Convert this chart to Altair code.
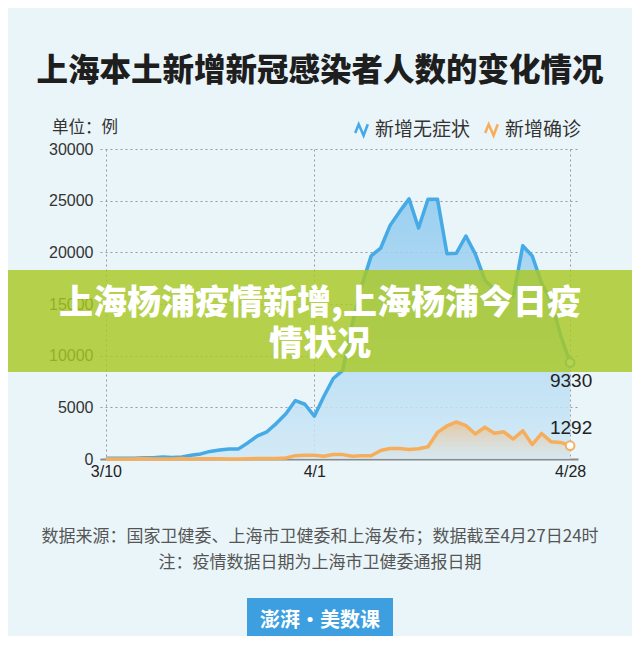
import altair as alt
import pandas as pd

# ---------------- data ----------------
dates = [d.strftime("%Y-%m-%dT00:00:00") for d in pd.date_range("2022-03-10", "2022-04-28", freq="D")]

asymptomatic = [76, 64, 78, 64, 128, 130, 197, 150, 203, 366,
                492, 734, 865, 977, 979, 1580, 2231, 2631, 3450, 4381,
                5656, 5298, 4144, 6051, 7788, 8581, 13086, 16766, 19660, 20398,
                22609, 23937, 25173, 22348, 25141, 25146, 19872, 19923, 21582, 19831,
                17332, 16407, 15861, 15698, 20634, 19657, 16983, 15319, 11956, 9330]

confirmed = [4, 11, 5, 1, 41, 9, 5, 8, 57, 8,
             17, 24, 31, 4, 4, 29, 38, 45, 50, 96,
             326, 355, 358, 260, 438, 425, 268, 311, 322, 824,
             1015, 1006, 914, 994, 1189, 2573, 3200, 3590, 3238, 2417,
             3084, 2494, 2634, 1931, 2736, 1401, 2472, 1661, 1606, 1292]

series_names = ["新增无症状", "新增确诊"]
series_colors = ["#45aae5", "#f7ae5c"]

y_ticks = [0, 5000, 10000, 15000, 20000, 25000, 30000]

title_text = "上海本土新增新冠感染者人数的变化情况"
unit_text = "单位：例"
banner_line1 = "上海杨浦疫情新增,上海杨浦今日疫"
banner_line2 = "情状况"
source_text = "数据来源：国家卫健委、上海市卫健委和上海发布；数据截至4月27日24时"
note_text = "注：疫情数据日期为上海市卫健委通报日期"
logo_text = "澎湃·美数课"

rows = []
for d, a, c in zip(dates, asymptomatic, confirmed):
    rows.append({"date": d, "series": series_names[0], "value": a})
    rows.append({"date": d, "series": series_names[1], "value": c})
df = pd.DataFrame(rows)
last = df[df["date"] == dates[-1]]

FONT_CJK = "Noto Sans CJK SC"
FONT_NUM = "Liberation Sans"

# ---------------- scales / encodings ----------------
x_enc = alt.X(
    "date:T",
    scale=alt.Scale(domain=[alt.DateTime(year=2022, month=3, date=9, hours=9),
                            alt.DateTime(year=2022, month=4, date=28, hours=20)]),
    axis=alt.Axis(
        values=[alt.DateTime(year=2022, month=3, date=10),
                alt.DateTime(year=2022, month=4, date=1),
                alt.DateTime(year=2022, month=4, date=28)],
        format="%-m/%-d", title=None, ticks=False, labelFlush=False,
        labelFontSize=16, labelColor="#222", labelFont=FONT_NUM, labelPadding=4,
        domainColor="#8a8a8a", domainWidth=2,
        grid=True, gridDash=[2, 3], gridColor="#9a9a9a", gridWidth=1,
    ),
)
y_enc = alt.Y(
    "value:Q",
    scale=alt.Scale(domain=[0, 30000]),
    axis=alt.Axis(
        values=y_ticks, format="d", title=None, ticks=False, domain=False,
        labelFontSize=16, labelColor="#333", labelFont=FONT_NUM, labelPadding=7,
        grid=True, gridDash=[2, 3], gridColor="#9a9a9a", gridWidth=1,
    ),
)

one = alt.Data(values=[{"a": 0}])

base = alt.Chart(df)

area_blue = base.transform_filter(alt.datum.series == series_names[0]).mark_area(
    opacity=0.85,
    color=alt.Gradient(gradient="linear",
                       stops=[alt.GradientStop(color="#8ec9ef", offset=0),
                              alt.GradientStop(color="#cfe8f6", offset=1)],
                       x1=0, y1=0, x2=0, y2=1)
).encode(x=x_enc, y=y_enc)

area_orange = base.transform_filter(alt.datum.series == series_names[1]).mark_area(
    color=alt.Gradient(gradient="linear",
                       stops=[alt.GradientStop(color="rgba(247,180,105,0.6)", offset=0),
                              alt.GradientStop(color="rgba(247,200,150,0.05)", offset=1)],
                       x1=0, y1=0, x2=0, y2=1)
).encode(x=x_enc, y=y_enc)

zig = "M-0.9,0.45L-0.4,-0.8L0.3,0.8L0.9,-0.8"
lines = base.mark_line(strokeWidth=3.5, strokeJoin="round").encode(
    x=x_enc, y=y_enc,
    color=alt.Color("series:N",
                    scale=alt.Scale(domain=series_names, range=series_colors),
                    sort=series_names,
                    legend=alt.Legend(title=None, orient="none", direction="horizontal",
                                      legendX=252, legendY=-29,
                                      symbolType=zig, symbolSize=196, symbolStrokeWidth=2.6,
                                      labelFontSize=19, labelColor="#333", labelFont=FONT_CJK,
                                      labelOffset=4, columnPadding=9)),
)

points = alt.Chart(last).mark_point(size=75, strokeWidth=2, filled=False, fill="#ffffff", opacity=1).encode(
    x=x_enc, y=y_enc,
    stroke=alt.Stroke("series:N", scale=alt.Scale(domain=series_names, range=series_colors), legend=None),
)

lab_blue = alt.Chart(last).transform_filter(alt.datum.series == series_names[0]).mark_text(
    fontSize=19, font=FONT_NUM, color="#222", dy=18, dx=1
).encode(x=x_enc, y=y_enc, text="value:Q")
lab_orange = alt.Chart(last).transform_filter(alt.datum.series == series_names[1]).mark_text(
    fontSize=19, font=FONT_NUM, color="#222", dy=-18, dx=1
).encode(x=x_enc, y=y_enc, text="value:Q")

banner = alt.Chart(one).mark_rect(color="#a9c823", opacity=0.82).encode(
    x=alt.value(-92), x2=alt.value(532), y=alt.value(121), y2=alt.value(223))


def txt(t, x, y, size, color, weight="normal", font=FONT_CJK, align="center"):
    return alt.Chart(one).mark_text(
        text=t, fontSize=size, color=color, fontWeight=weight, font=font,
        align=align, baseline="middle"
    ).encode(x=alt.value(x), y=alt.value(y))


banner_t1 = txt(banner_line1, 220, 155, 34, "#ffffff", 900)
banner_t2 = txt(banner_line2, 220, 196, 34, "#ffffff", 900)
title = txt(title_text, 220, -77, 31.5, "#1e1e1e", 900)
unit = txt(unit_text, -48, -21, 16.5, "#333333", align="left")
src = txt(source_text, 220, 388, 17, "#555555")
note = txt(note_text, 220, 414, 17, "#555555")

logo_box = alt.Chart(one).mark_rect(color="#3d9fe0").encode(
    x=alt.value(147), x2=alt.value(293), y=alt.value(449), y2=alt.value(487))
logo = txt(logo_text, 220, 472, 20, "#ffffff", "bold")

chart = alt.layer(
    area_blue, area_orange, lines, points, lab_blue, lab_orange,
    banner, banner_t1, banner_t2, title, unit, src, note, logo_box, logo
).properties(
    width=478, height=310,
    autosize=alt.AutoSizeParams(type="none"),
    padding={"left": 92, "top": 141, "right": 54, "bottom": 177},
    background="#eaf5fa",
).configure_view(stroke=None)

chart.save("out.html", embed_options={"renderer": "svg", "actions": False})
